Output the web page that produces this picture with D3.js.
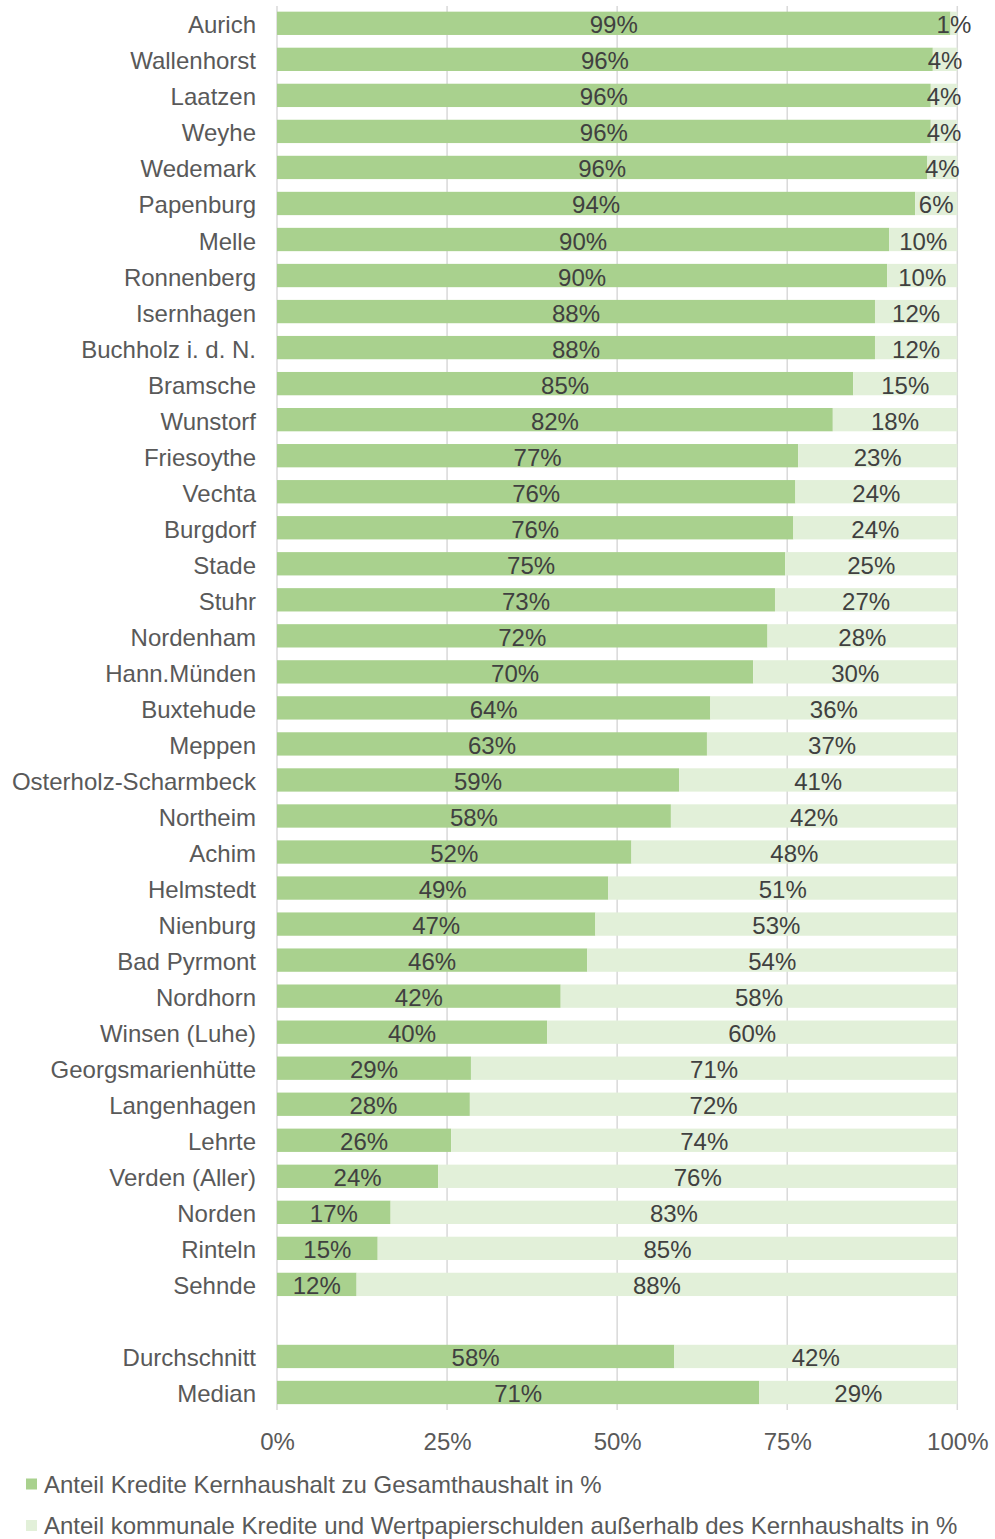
<!DOCTYPE html>
<html>
<head>
	<meta http-equiv="Content-Type" content="text/html; charset=utf-8" />
	<title>Anteil Kredite Kernhaushalt</title>
	<style>
		body { margin: 0; background: #fff; }
		svg { display: block; font-family: "Liberation Sans", Arial, sans-serif; }
	</style>
</head>
<body>
	<div id="chart"></div>

	<script type="text/javascript" src="https://cdn.jsdelivr.net/npm/d3@7"></script>
	<script type="text/javascript">
		// Kommunen, sortiert wie im Original; "" = Leerzeile vor Durchschnitt/Median
		var kommunen = ["Aurich", "Wallenhorst", "Laatzen", "Weyhe", "Wedemark", "Papenburg", "Melle",
			"Ronnenberg", "Isernhagen", "Buchholz i. d. N.", "Bramsche", "Wunstorf", "Friesoythe", "Vechta",
			"Burgdorf", "Stade", "Stuhr", "Nordenham", "Hann.Münden", "Buxtehude", "Meppen",
			"Osterholz-Scharmbeck", "Northeim", "Achim", "Helmstedt", "Nienburg", "Bad Pyrmont", "Nordhorn",
			"Winsen (Luhe)", "Georgsmarienhütte", "Langenhagen", "Lehrte", "Verden (Aller)", "Norden",
			"Rinteln", "Sehnde", "", "Durchschnitt", "Median"];

		// Anteil Kredite Kernhaushalt, null = Leerzeile
		var anteilKern = [0.990, 0.964, 0.961, 0.961, 0.956, 0.938, 0.900,
			0.897, 0.879, 0.879, 0.847, 0.817, 0.766, 0.762,
			0.759, 0.747, 0.732, 0.721, 0.700, 0.637, 0.632,
			0.591, 0.579, 0.521, 0.487, 0.468, 0.456, 0.417,
			0.397, 0.2851, 0.2835, 0.256, 0.237, 0.167,
			0.148, 0.117, null, 0.584, 0.709];

		var ticks = [0, 0.25, 0.5, 0.75, 1];

		var legendLabels = ["Anteil Kredite Kernhaushalt zu Gesamthaushalt in %",
			"Anteil kommunale Kredite und Wertpapierschulden außerhalb des Kernhaushalts in %"];
		var colors = ["#a9d18e", "#e2f0d9"];

		var width = 995, height = 1539;
		var fmt = d3.format(".0%");

		var svg = d3.select("#chart").append("svg")
			.attr("width", width)
			.attr("height", height);

		var x = d3.scaleLinear().domain([0, 1]).range([277, 957.3]);
		var y = d3.scaleBand()
			.domain(d3.range(kommunen.length))
			.range([5.3, 1410.5])
			.paddingInner(0.353)
			.paddingOuter(0.1765);

		// Gitterlinien
		svg.append("g").selectAll("line")
			.data(ticks)
			.enter().append("line")
			.attr("x1", function(d) { return x(d); })
			.attr("x2", function(d) { return x(d); })
			.attr("y1", 6)
			.attr("y2", 1410)
			.attr("stroke", "#d9d9d9")
			.attr("stroke-width", 1.5);

		var rows = [];
		for (var i = 0; i < kommunen.length; ++i) {
			if (anteilKern[i] == null) continue;
			rows.push({ i: i, name: kommunen[i], a: anteilKern[i], b: 1 - anteilKern[i] });
		}

		var row = svg.append("g").selectAll("g")
			.data(rows)
			.enter().append("g");

		row.append("rect")
			.attr("x", x(0))
			.attr("y", function(d) { return y(d.i); })
			.attr("width", function(d) { return x(d.a) - x(0); })
			.attr("height", y.bandwidth())
			.attr("fill", colors[0]);

		row.append("rect")
			.attr("x", function(d) { return x(d.a); })
			.attr("y", function(d) { return y(d.i); })
			.attr("width", function(d) { return x(1) - x(d.a); })
			.attr("height", y.bandwidth())
			.attr("fill", colors[1]);

		function midY(d) {
			return y(d.i) + y.bandwidth() / 2 + 10;
		}

		row.append("text")
			.attr("x", function(d) { return (x(0) + x(d.a)) / 2; })
			.attr("y", midY)
			.attr("text-anchor", "middle")
			.attr("font-size", 24)
			.attr("fill", "#404040")
			.text(function(d) { return fmt(d.a); });

		row.append("text")
			.attr("x", function(d) { return (x(d.a) + x(1)) / 2; })
			.attr("y", midY)
			.attr("text-anchor", "middle")
			.attr("font-size", 24)
			.attr("fill", "#404040")
			.text(function(d) { return fmt(d.b); });

		// Kategorien
		row.append("text")
			.attr("x", 256)
			.attr("y", midY)
			.attr("text-anchor", "end")
			.attr("font-size", 24)
			.attr("fill", "#595959")
			.text(function(d) { return d.name; });

		// x-Achse
		var xAxis = d3.axisBottom(x)
			.tickValues(ticks)
			.tickFormat(d3.format(".0%"))
			.tickSize(0)
			.tickPadding(0);
		var ax = svg.append("g")
			.attr("transform", "translate(0,1450)")
			.call(xAxis);
		ax.select(".domain").remove();
		ax.selectAll("text")
			.attr("dy", 0)
			.attr("y", 0)
			.attr("font-size", 24)
			.attr("font-family", "Liberation Sans, Arial, sans-serif")
			.attr("fill", "#595959");

		// Legende
		var leg = svg.append("g").selectAll("g")
			.data(legendLabels)
			.enter().append("g")
			.attr("transform", function(d, i) { return "translate(26," + (1478.5 + i * 41.5) + ")"; });
		leg.append("rect")
			.attr("width", 11)
			.attr("height", 11)
			.attr("fill", function(d, i) { return colors[i]; });
		leg.append("text")
			.attr("x", 18)
			.attr("y", 14)
			.attr("font-size", 24)
			.attr("fill", "#595959")
			.text(function(d) { return d; });
	</script>
</body>
</html>
